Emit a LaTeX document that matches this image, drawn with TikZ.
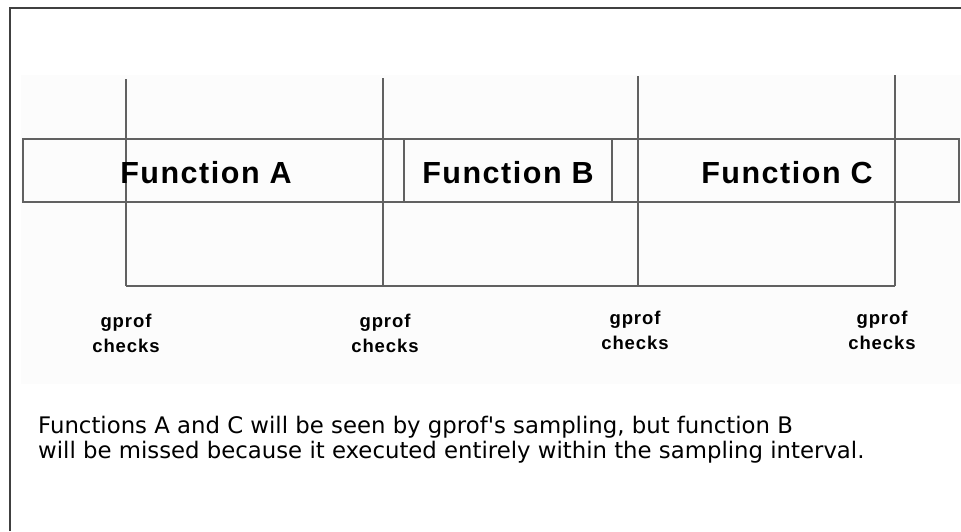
\documentclass[tikz,border=0pt]{standalone}
\usepackage{fontspec}
\setmainfont{DejaVu Sans}[Ligatures=TeXOff]
\newfontfamily\labelfont[LetterSpace=5]{Liberation Sans}
\begin{document}
\begin{tikzpicture}[x=1pt,y=-1pt,
  frame/.style={draw=black!75,line width=1.6pt},
  barline/.style={draw=black!62,line width=1.5pt},
  tick/.style={draw=black!62,line width=1.1pt},
  fname/.style={font=\labelfont\bfseries\fontsize{30.5}{34}\selectfont,inner sep=0pt},
  checklbl/.style={font=\labelfont\bfseries\fontsize{18.5}{25}\selectfont,align=center,inner sep=0pt},
  note/.style={font=\fontsize{22.8}{25}\selectfont,align=left,inner sep=0pt,anchor=base west}]
\useasboundingbox (0,0) rectangle (961,531);
% faint panel behind the timeline
\fill[black!1] (21,75) rectangle (961,384);
% outer frame (left and top edges)
\draw[frame] (10,531) -- (10,8) -- (961,8);

% sampling instants
\coordinate (t1top) at (126,79);  \coordinate (t1) at (126,286);
\coordinate (t2top) at (383,78);  \coordinate (t2) at (383,286);
\coordinate (t3top) at (638,76);  \coordinate (t3) at (638,286);
\coordinate (t4top) at (895,75);  \coordinate (t4) at (895,286);

% execution bar
\draw[barline] (23,139) rectangle (959,202);
\draw[barline] (404,139) -- (404,202);
\draw[barline] (612,139) -- (612,202);

% sampling ticks and baseline
\draw[tick] (t1top) -- (t1);
\draw[tick] (t2top) -- (t2);
\draw[tick] (t3top) -- (t3);
\draw[tick] (t4top) -- (t4);
\draw[tick] (t1) -- (t4);

% function names
\node[fname] (fa) at (206,173) {Function A};
\node[fname] (fb) at (508,173) {Function B};
\node[fname] (fc) at (787,173) {Function C};

% sample labels
\node[checklbl] (c1) at (126,333) {gprof\\checks};
\node[checklbl] (c2) at (385,333) {gprof\\checks};
\node[checklbl] (c3) at (635,330) {gprof\\checks};
\node[checklbl] (c4) at (882,330) {gprof\\checks};

% explanation (base anchor sits on the last line)
\node[note] (expl) at (38,458) {Functions A and C will be seen by gprof's sampling, but function B\\will be missed because it executed entirely within the sampling interval.};
\end{tikzpicture}
\end{document}
